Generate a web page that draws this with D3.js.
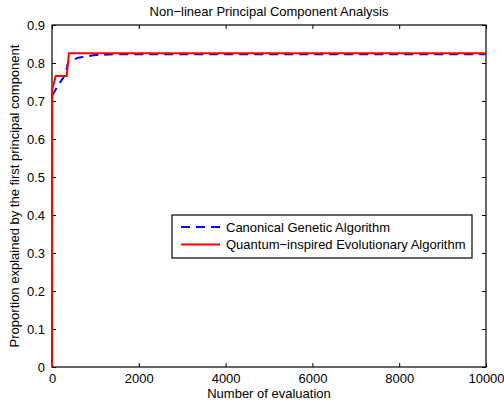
<!DOCTYPE html>
<html lang="en">
<head>
  <meta charset="UTF-8">
  <title>Non-linear Principal Component Analysis</title>
  <script src="https://d3js.org/d3.v7.min.js"></script>
  <style>
    body { margin: 0; background: white; font-family: "Liberation Sans", Arial, sans-serif; }
    svg { display: block; }
  </style>
</head>
<body>
  <div id="viz"></div>
  <script>
    // series: [evaluations, proportion]
    const gaEval = [0, 145, 300, 375, 606, 990, 1450, 10000];
    const gaValue = [0.714, 0.742, 0.768, 0.803, 0.814, 0.821, 0.823, 0.823];
    const qeaEval = [0, 5, 85, 340, 390, 10000];
    const qeaValue = [0, 0.73, 0.766, 0.766, 0.8255, 0.8255];
    const xTicks = [0, 2000, 4000, 6000, 8000, 10000];
    const yTicks = [0, 0.1, 0.2, 0.3, 0.4, 0.5, 0.6, 0.7, 0.8, 0.9];
    const seriesNames = ["Canonical Genetic Algorithm", "Quantum\u2212inspired Evolutionary Algorithm"];

    const svgWidth = 504, svgHeight = 404;
    const margin = { top: 25, right: 18, bottom: 37, left: 52 };
    const width = svgWidth - margin.left - margin.right;
    const height = svgHeight - margin.top - margin.bottom;

    const svg = d3.select("#viz").append("svg")
      .attr("width", svgWidth)
      .attr("height", svgHeight)
      .append("g")
      .attr("transform", `translate(${margin.left},${margin.top})`);

    const x = d3.scaleLinear().domain([0, 10000]).range([0, width]);
    const y = d3.scaleLinear().domain([0, 0.9]).range([height, 0]);

    // Axes, ticks pointing inward like MATLAB
    const styleAxis = g => {
      g.select(".domain").remove();
      g.selectAll("line").attr("stroke", "#000");
      g.selectAll("text").attr("fill", "#000").attr("font-size", "13px")
        .attr("font-family", "'Liberation Sans', Arial, sans-serif");
    };

    svg.append("g")
      .attr("transform", `translate(0,${height})`)
      .call(d3.axisBottom(x).tickValues(xTicks).tickSizeInner(-4).tickSizeOuter(0).tickPadding(7).tickFormat(d3.format("d")))
      .call(styleAxis);

    svg.append("g")
      .call(d3.axisLeft(y).tickValues(yTicks).tickSizeInner(-4).tickSizeOuter(0).tickPadding(7).tickFormat(d => d === 0 ? "0" : d3.format(".1f")(d)))
      .call(styleAxis);

    svg.append("g")
      .call(d3.axisTop(x).tickValues(xTicks).tickSizeInner(-4).tickSizeOuter(0).tickFormat(""))
      .call(styleAxis);

    svg.append("g")
      .attr("transform", `translate(${width},0)`)
      .call(d3.axisRight(y).tickValues(yTicks).tickSizeInner(-4).tickSizeOuter(0).tickFormat(""))
      .call(styleAxis);

    svg.append("rect")
      .attr("width", width).attr("height", height)
      .attr("fill", "none").attr("stroke", "#000").attr("stroke-width", 1.2);

    const line = d3.line().x(d => x(d[0])).y(d => y(d[1]));

    svg.append("path")
      .datum(gaEval.map((e, i) => [e, gaValue[i]]))
      .attr("fill", "none")
      .attr("stroke", "#0000ff")
      .attr("stroke-width", 2)
      .attr("stroke-dasharray", "9,6")
      .attr("d", line);

    svg.append("path")
      .datum(qeaEval.map((e, i) => [e, qeaValue[i]]))
      .attr("fill", "none")
      .attr("stroke", "#ff0000")
      .attr("stroke-width", 2)
      .attr("d", line);

    // Title and axis labels
    svg.append("text")
      .attr("x", width / 2).attr("y", -9)
      .attr("text-anchor", "middle").attr("font-size", "13px")
      .text("Non\u2212linear Principal Component Analysis");

    svg.append("text")
      .attr("x", width / 2).attr("y", height + 31)
      .attr("text-anchor", "middle").attr("font-size", "13px")
      .text("Number of evaluation");

    svg.append("text")
      .attr("transform", "rotate(-90)")
      .attr("x", -height / 2).attr("y", -33)
      .attr("text-anchor", "middle").attr("font-size", "13px")
      .text("Proportion explained by the first principal component");

    // Legend
    const legend = svg.append("g").attr("transform", `translate(${172 - margin.left},${215 - margin.top})`);
    legend.append("rect")
      .attr("width", 300).attr("height", 43)
      .attr("fill", "white").attr("stroke", "#000").attr("stroke-width", 1.2);

    const legendStyles = [
      { color: "#0000ff", dash: "9,6" },
      { color: "#ff0000", dash: null }
    ];
    seriesNames.forEach((name, i) => {
      const yy = 12 + i * 17.5;
      legend.append("line")
        .attr("x1", 9).attr("x2", 48).attr("y1", yy).attr("y2", yy)
        .attr("stroke", legendStyles[i].color).attr("stroke-width", 2)
        .attr("stroke-dasharray", legendStyles[i].dash);
      legend.append("text")
        .attr("x", 54).attr("y", yy + 4.5)
        .attr("font-size", "13px")
        .text(name);
    });
  </script>
</body>
</html>
